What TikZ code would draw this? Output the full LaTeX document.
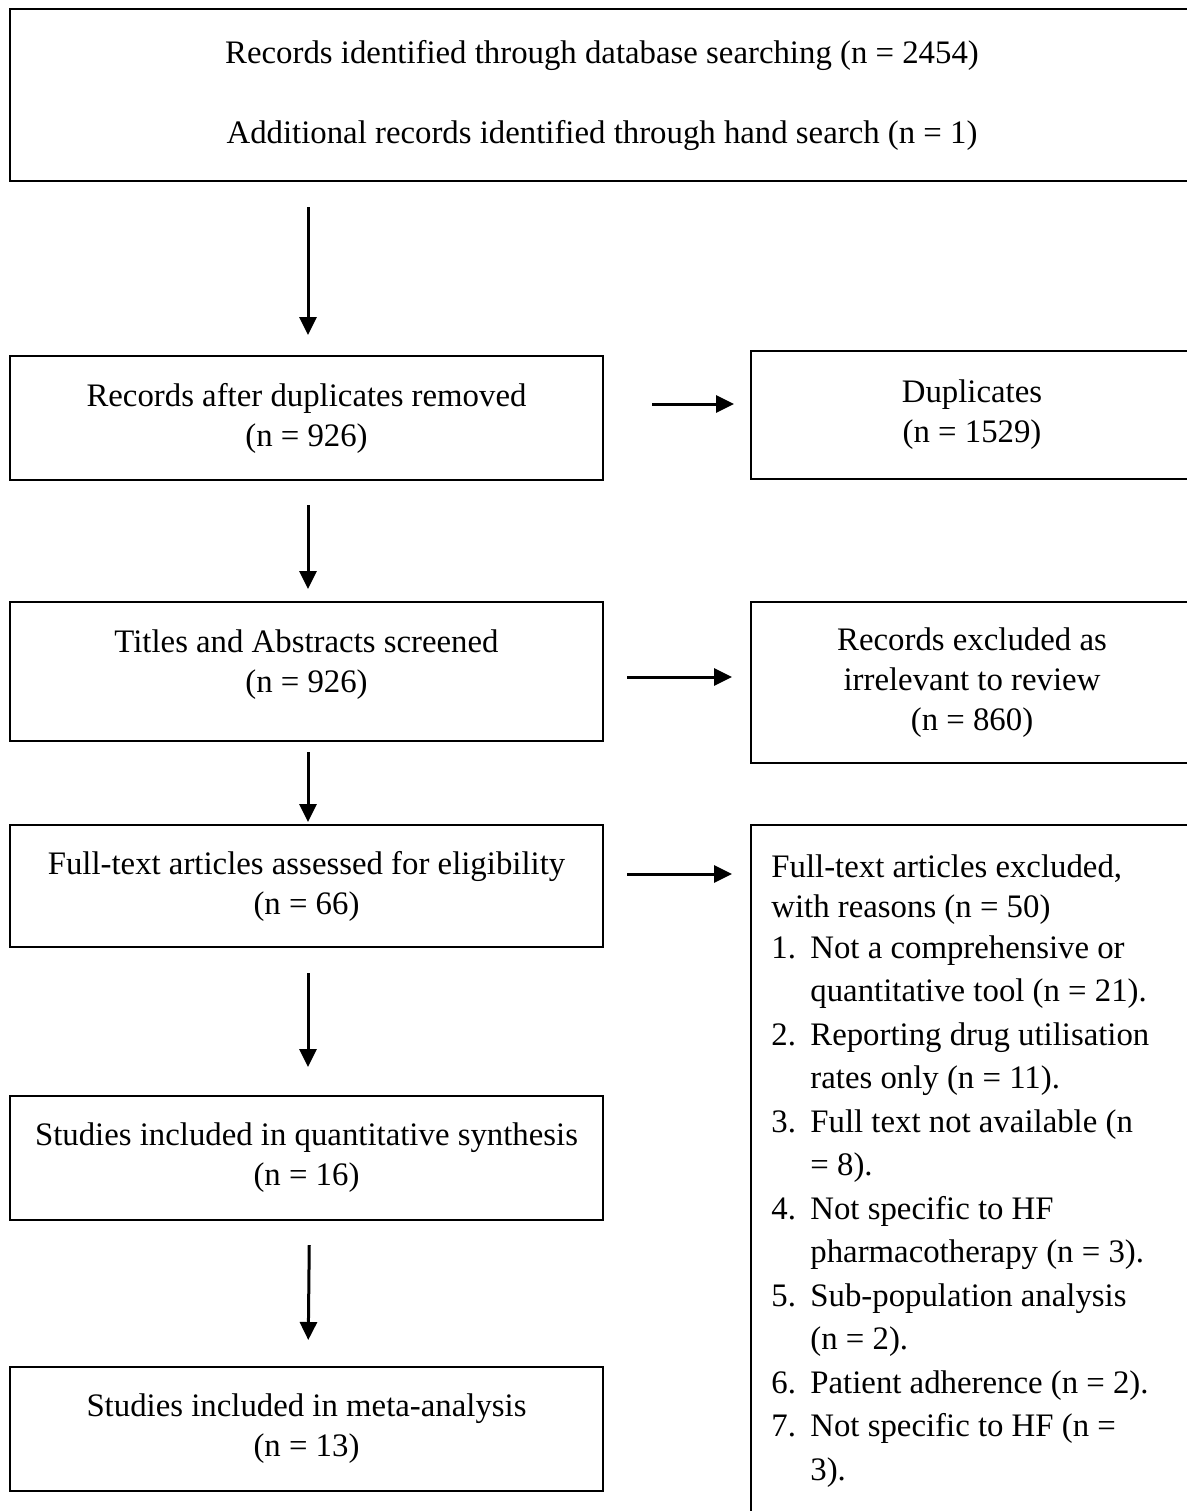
\documentclass[tikz,border=0pt]{standalone}
\usepackage{fontspec}
\setmainfont{Liberation Serif}
\usetikzlibrary{arrows.meta,calc}
\begin{document}
\begin{tikzpicture}[x=0.5pt,y=-0.5pt,
  box/.style={draw=black,line width=1pt,align=center,inner sep=0pt,font=\fontsize{16.4}{20}\selectfont},
  arr/.style={line width=1.5pt,-{Triangle[length=9pt,width=8.5pt]}}]
\useasboundingbox (0,0) rectangle (1187,1511);
\clip (0,0) rectangle (1187,1511);
\fill[white] (0,0) rectangle (1187,1511);
% left column
\node[box,line width=1.4pt,minimum width=592pt,minimum height=86pt] (top) at (602,95)
  {Records identified through database searching (n = 2454)\\[20pt]Additional records identified through hand search (n = 1)};
\node[box,minimum width=296.5pt,minimum height=62pt] (dedup) at (306.5,418)
  {Records after duplicates removed\\(n = 926)};
\node[box,minimum width=296.5pt,minimum height=69.5pt] (screen) at (306.5,671.5)
  {Titles and Abstracts screened\\(n = 926)\rule[-10pt]{0pt}{10pt}};
\node[box,minimum width=296.5pt,minimum height=61pt] (full) at (306.5,886)
  {Full-text articles assessed for eligibility\\(n = 66)};
\node[box,minimum width=296.5pt,minimum height=62pt] (quant) at (306.5,1158)
  {Studies included in quantitative synthesis\\(n = 16)};
\node[box,minimum width=296.5pt,minimum height=62pt] (meta) at (306.5,1429)
  {Studies included in meta-analysis\\(n = 13)};
% right column
\node[box,minimum width=221pt,minimum height=64pt] (dup) at (972,415)
  {Duplicates\\(n = 1529)};
\node[box,minimum width=221pt,minimum height=80.5pt] (irr) at (972,682.5)
  {Records excluded as\\irrelevant to review\\(n = 860)};
\node[box,minimum width=221pt,minimum height=352.5pt] (excl) at (972,1177.5) {};
\node[anchor=north west,inner sep=0pt,align=left,font=\fontsize{16.4}{20}\selectfont] (reasons) at (771,854)
  {Full-text articles excluded,\\
   with reasons (n = 50)\\[0.5pt]
   \makebox[19.5pt][l]{1.}Not a comprehensive or\\[1.75pt]
   \hspace*{19.5pt}quantitative tool (n = 21).\\[1.75pt]
   \makebox[19.5pt][l]{2.}Reporting drug utilisation\\[1.75pt]
   \hspace*{19.5pt}rates only (n = 11).\\[1.75pt]
   \makebox[19.5pt][l]{3.}Full text not available (n\\[1.75pt]
   \hspace*{19.5pt}= 8).\\[1.75pt]
   \makebox[19.5pt][l]{4.}Not specific to HF\\[1.75pt]
   \hspace*{19.5pt}pharmacotherapy (n = 3).\\[1.75pt]
   \makebox[19.5pt][l]{5.}Sub-population analysis\\[1.75pt]
   \hspace*{19.5pt}(n = 2).\\[1.75pt]
   \makebox[19.5pt][l]{6.}Patient adherence (n = 2).\\[1.75pt]
   \makebox[19.5pt][l]{7.}Not specific to HF (n =\\[1.75pt]
   \hspace*{19.5pt}3).};
% vertical arrows
\draw[arr,shorten <=12.5pt,shorten >=10pt] ([xshift=0.75pt]top.south -| dedup.north) -- ([xshift=0.75pt]dedup.north);
\draw[arr,shorten <=12pt,shorten >=6pt] ([xshift=0.75pt]dedup.south) -- ([xshift=0.75pt]screen.north);
\draw[arr,shorten <=5pt,shorten >=1pt] ([xshift=0.75pt]screen.south) -- ([xshift=0.75pt]full.north);
\draw[arr,shorten <=12.5pt,shorten >=14pt] ([xshift=0.75pt]full.south) -- ([xshift=0.75pt]quant.north);
\draw[arr,shorten <=12pt,shorten >=13pt] ([xshift=1.5pt]quant.south) -- ([xshift=0.75pt]meta.north);
% horizontal arrows
\draw[arr,shorten <=24pt,shorten >=8pt] ([yshift=7pt]dedup.east) -- ([yshift=7pt]dedup.east -| dup.west);
\draw[arr,shorten <=11.5pt,shorten >=9pt] ([yshift=-2.75pt]screen.east) -- ([yshift=-2.75pt]screen.east -| irr.west);
\draw[arr,shorten <=11.5pt,shorten >=9pt] ([yshift=6pt]full.east) -- ([yshift=6pt]full.east -| excl.west);
\end{tikzpicture}
\end{document}
